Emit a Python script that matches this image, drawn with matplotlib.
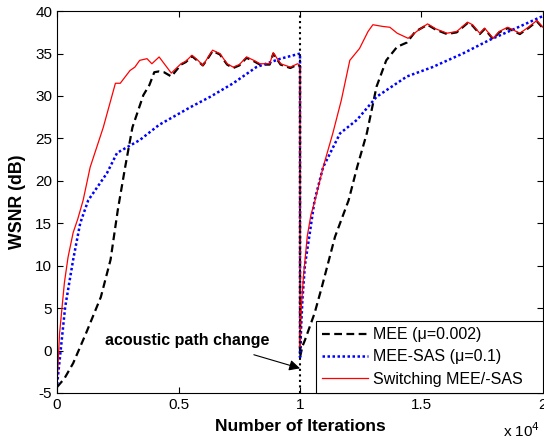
import matplotlib
matplotlib.use('Agg')
import matplotlib.pyplot as plt

plt.rcParams['font.family'] = ['Liberation Sans', 'DejaVu Sans']
plt.rcParams['axes.unicode_minus'] = False

# MEE (mu=0.002), black dashed
mee_x = [0, 300, 660, 1200, 1800, 2200, 2500, 2800, 3100, 3550, 3800, 4000, 4200, 4400, 4700,
         5100, 5300, 5550, 5800, 6000, 6200, 6400, 6700, 7000, 7250, 7500, 7800, 8100, 8350,
         8750, 8900, 9200, 9600, 9900, 10000,
         10000, 10100, 10200, 10600, 10900, 11440, 12000, 12350, 12750, 13150, 13550, 14000,
         14400, 14750, 15250, 15600, 16050, 16450, 16900, 17100, 17400, 17600, 17950, 18200,
         18550, 19050, 19400, 19750, 20000]
mee_y = [-4.3, -3.3, -1.5, 2.1, 6.3, 10.7, 16.6, 21.6, 26.3, 30.1, 31.3, 32.8, 32.9, 32.8, 32.3,
         33.7, 34.0, 34.7, 34.1, 33.6, 34.4, 35.3, 34.9, 33.7, 33.3, 33.6, 34.5, 34.1, 33.7,
         33.7, 35.0, 33.7, 33.3, 33.7, 33.5,
         -0.8, 0.5, 1.2, 4.4, 7.5, 13.4, 17.7, 21.6, 25.6, 31.1, 34.2, 35.8,
         36.3, 37.6, 38.4, 37.8, 37.3, 37.5, 38.6, 38.3, 37.3, 37.9, 36.7, 37.5,
         38.0, 37.3, 38.0, 38.8, 38.0]

# MEE-SAS (mu=0.1), blue dotted
sas_x = [0, 120, 330, 660, 950, 1280, 2050, 2470, 3400, 4200, 5500, 6300, 7250, 8200, 9200,
         10000, 10000, 10050, 10100, 10200, 10400, 10600, 10950, 11650, 12350, 13150, 14400,
         15450, 16700, 17800, 18900, 19900, 20000]
sas_y = [-4.0, -0.7, 5.1, 10.7, 15.0, 17.7, 20.9, 23.3, 24.8, 26.6, 28.7, 29.9, 31.5, 33.4, 34.4,
         35.0, -0.8, 3.0, 6.0, 10.0, 13.8, 17.7, 21.6, 25.6, 27.2, 29.9, 32.3,
         33.4, 35.0, 36.6, 38.0, 39.3, 39.4]

# Switching MEE/-SAS, red solid
sw_x = [0, 100, 200, 300, 450, 660, 850, 1070, 1360, 1900, 2400, 2600, 3000, 3200, 3400, 3700,
        3900, 4200, 4700, 5100, 5300, 5550, 5800, 6000, 6200, 6400, 6700, 7000, 7250, 7500,
        7800, 8100, 8350, 8750, 8900, 9200, 9600, 9900, 10000,
        10000, 10050, 10150, 10300, 10450, 10620, 10950, 11350, 11700, 12050, 12450, 12800,
        13000, 13400, 13700, 14000, 14450, 14800, 15250, 15600, 16050, 16450, 16900, 17100,
        17400, 17600, 17950, 18200, 18550, 19050, 19400, 19750, 20000]
sw_y = [-4.0, 2.0, 5.0, 8.0, 11.0, 13.9, 15.5, 17.7, 21.6, 26.3, 31.5, 31.5, 33.0, 33.4, 34.2, 34.4,
        33.8, 34.6, 32.7, 33.8, 34.1, 34.8, 34.2, 33.6, 34.5, 35.4, 35.0, 33.8, 33.4, 33.7,
        34.6, 34.2, 33.8, 33.8, 35.1, 33.8, 33.4, 33.8, 33.6,
        0.3, 5.0, 9.0, 13.5, 16.0, 17.7, 21.6, 25.6, 29.5, 34.2, 35.6, 37.6,
        38.4, 38.2, 38.1, 37.4, 36.8, 37.6, 38.5, 37.9, 37.4, 37.6, 38.7, 38.4,
        37.4, 38.0, 36.8, 37.6, 38.1, 37.4, 38.1, 38.9, 38.1]

labels = ['MEE (\u03bc=0.002)', 'MEE-SAS (\u03bc=0.1)', 'Switching MEE/-SAS   ']
change_at = 10000

fig = plt.figure(figsize=(5.44, 4.46), dpi=100)
ax = fig.add_axes([0.105, 0.119, 0.893, 0.856])

ax.plot(mee_x, mee_y, color='black', ls='--', lw=1.6, dashes=(3.5, 2), label=labels[0])
ax.plot(sas_x, sas_y, color='blue', ls=':', lw=1.8, dashes=(1, 1), label=labels[1])
ax.plot(sw_x, sw_y, color='red', ls='-', lw=0.9, label=labels[2])
ax.axvline(change_at, color='black', ls=':', lw=1.5)

# annotation: text and arrow
ax.text(5350, 1.2, 'acoustic path change', ha='center', va='center',
        fontsize=11.5, fontweight='bold')
ax.annotate('', xy=(change_at, -2.1), xytext=(8100, -0.5),
            arrowprops=dict(arrowstyle='-|>', color='black', lw=0.8,
                            mutation_scale=16, shrinkA=0, shrinkB=0))

ax.set_xlim(0, 20000)
ax.set_ylim(-5, 40)
ax.set_xticks([0, 5000, 10000, 15000, 20000])
ax.set_xticklabels(['0', '0.5', '1', '1.5', '2'])
ax.set_yticks(range(-5, 41, 5))
ax.tick_params(direction='in', top=True, right=True, labelsize=11, length=4)
ax.set_xlabel('Number of Iterations', fontsize=12.6, fontweight='bold', labelpad=5)
ax.set_ylabel('WSNR (dB)', fontsize=12.8, fontweight='bold', labelpad=7)
ax.text(0.995, -0.1, r'x 10$^4$', transform=ax.transAxes, ha='right', va='center', fontsize=11)

leg = ax.legend(loc='lower right', borderaxespad=0, fancybox=False, framealpha=1,
                edgecolor='black', fontsize=11.5, handlelength=2.9, handletextpad=0.3,
                labelspacing=0.45)
leg.get_frame().set_linewidth(0.8)

fig.savefig('out.png', dpi=100)
